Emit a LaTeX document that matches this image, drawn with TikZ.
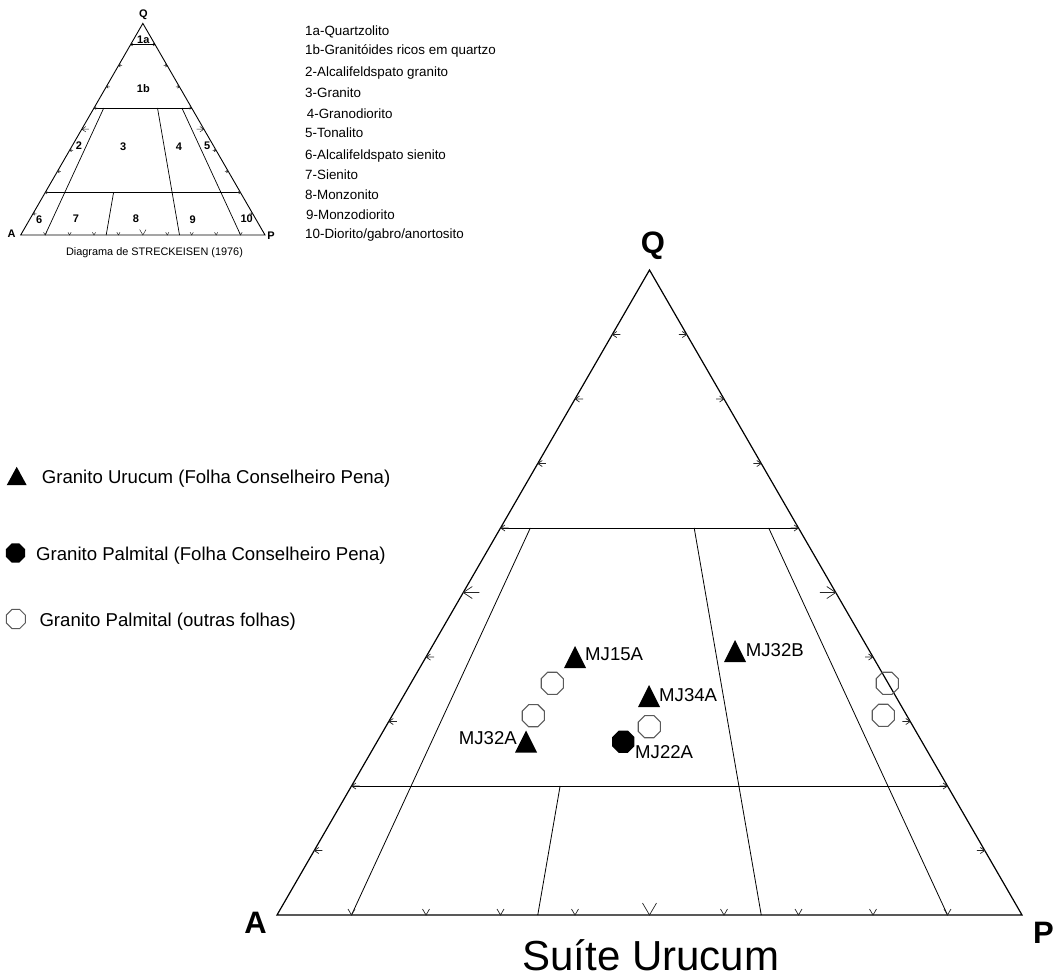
\documentclass[tikz,border=0pt]{standalone}
\usepackage{fontspec}
\setmainfont{Liberation Sans}
\usetikzlibrary{calc,shapes.geometric}

% QAP classification frame: #1 = A corner, #2 = P corner, #3 = Q corner, #4 = tick scale
\newcommand\qapgrid[4]{%
  \draw[frame] (#1) -- (#2) -- (#3) -- cycle;
  \foreach \g in {10,35,65,90} {
    \coordinate (#1base\g) at ($(#1)!0.\g!(#2)$);
  }
  % Q levels 60 % and 20 %
  \draw[field] ($(#1)!0.6!(#3)$) -- ($(#2)!0.6!(#3)$);
  \draw[field] ($(#1)!0.2!(#3)$) -- ($(#2)!0.2!(#3)$);
  % P/(A+P) rays 10, 35, 65, 90 %
  \draw[field] (#1base10) -- ($(#1base10)!0.6!(#3)$);
  \draw[field] (#1base35) -- ($(#1base35)!0.2!(#3)$);
  \draw[field] (#1base65) -- ($(#1base65)!0.6!(#3)$);
  \draw[field] (#1base90) -- ($(#1base90)!0.6!(#3)$);
  % scale ticks every 10 %
  \foreach \f/\k in {0.1/1,0.2/1,0.3/1,0.4/1,0.5/2,0.6/1,0.7/1,0.8/1,0.9/1} {
    \coordinate (#1tl) at ($(#1)!\f!(#3)$);
    \coordinate (#1tr) at ($(#2)!\f!(#3)$);
    \coordinate (#1tb) at ($(#1)!\f!(#2)$);
    \draw[tick] (#1tl) -- ++({8*\k*#4},0)
                (#1tl) -- ++({4.5*\k*#4},{-3*\k*#4})
                (#1tl) -- ++({4.5*\k*#4},{3*\k*#4});
    \draw[tick] (#1tr) -- ++({-8*\k*#4},0)
                (#1tr) -- ++({-4.5*\k*#4},{-3*\k*#4})
                (#1tr) -- ++({-4.5*\k*#4},{3*\k*#4});
    \draw[tick] (#1tb) ++({-3.5*\k*#4},{-6*\k*#4}) -- (#1tb) -- ++({3.5*\k*#4},{-6*\k*#4});
  }
}

\tikzset{
  frame/.style={line width=1.2pt, line join=miter},
  field/.style={line width=0.8pt},
  tick/.style={line width=0.7pt, black!85},
  oct/.style={regular polygon, regular polygon sides=8, inner sep=0pt},
  openoct/.style={oct, draw=black!65, line width=1.1pt, minimum size=24pt},
  fulloct/.style={oct, fill=black, minimum size=24pt},
  lbl/.style={inner sep=0pt, font=\fontsize{18.6}{22}\selectfont},
  keytxt/.style={inner sep=0pt, anchor=base west, font=\fontsize{18.6}{22}\selectfont},
  listtxt/.style={inner sep=0pt, anchor=base west, font=\fontsize{13.4}{16}\selectfont},
  apex/.style={inner sep=0pt, font=\fontsize{31}{34}\selectfont\bfseries},
  smallapex/.style={inner sep=0pt, font=\fontsize{11}{13}\selectfont\bfseries},
  field label/.style={inner sep=0pt, font=\fontsize{11}{13}\selectfont\bfseries},
  datatri/.pic={\fill (-11,11) -- (11,11) -- (0,-11) -- cycle;},
  keytri/.pic={\fill (-10,9.2) -- (10,9.2) -- (0,-9.2) -- cycle;}
}

\begin{document}
\begin{tikzpicture}[x=1pt,y=-1pt]
\useasboundingbox (0,0) rectangle (1056,979);

% ---------- reference diagram (Streckeisen) ----------
\begin{scope}[frame/.style={line width=0.9pt}, field/.style={line width=0.7pt},
              tick/.style={line width=0.5pt, black!85}]
  \coordinate (a) at (20.7,235);
  \coordinate (p) at (265,235);
  \coordinate (q) at (142.85,23.4);
  \qapgrid{a}{p}{q}{0.45}
  \draw[line width=1.1pt] ($(a)!0.9!(q)$) -- ($(p)!0.9!(q)$);
\end{scope}
\node[smallapex] (sq) at (143.3,15) {Q};
\node[smallapex] (sa) at (11.7,233.5) {A};
\node[smallapex] (sp) at (271,235.5) {P};
\node[field label] (f1a) at (143.3,40) {1a};
\node[field label] (f1b) at (143.3,88.3) {1b};
\node[field label] (f2) at (79,145.7) {2};
\node[field label] (f3) at (123.3,146.7) {3};
\node[field label] (f4) at (179,146.7) {4};
\node[field label] (f5) at (207.3,145.7) {5};
\node[field label] (f6) at (39.3,220) {6};
\node[field label] (f7) at (76,218.3) {7};
\node[field label] (f8) at (136,218.3) {8};
\node[field label] (f9) at (192.7,219.3) {9};
\node[field label] (f10) at (246.7,219) {10};
\node[inner sep=0pt, anchor=base, font=\fontsize{10.9}{13}\selectfont] (cap) at (154.5,255.7)
  {Diagrama de STRECKEISEN (1976)};

% field names
\node[listtxt] (l1a) at (305,35.5) {1a-Quartzolito};
\node[listtxt] (l1b) at (305,55) {1b-Granitóides ricos em quartzo};
\node[listtxt] (l2) at (305,76.5) {2-Alcalifeldspato granito};
\node[listtxt] (l3) at (305,97.5) {3-Granito};
\node[listtxt] (l4) at (306.7,118) {4-Granodiorito};
\node[listtxt] (l5) at (305,137.5) {5-Tonalito};
\node[listtxt] (l6) at (305,159) {6-Alcalifeldspato sienito};
\node[listtxt] (l7) at (305,179) {7-Sienito};
\node[listtxt] (l8) at (305,199) {8-Monzonito};
\node[listtxt] (l9) at (306,219) {9-Monzodiorito};
\node[listtxt] (l10) at (305,238.5) {10-Diorito/gabro/anortosito};

% ---------- legend ----------
\coordinate (keyU) at (16.7,476);
\pic at (keyU) {keytri};
\node[oct, fill=black, minimum size=20.6pt] (keyPC) at (15.5,553) {};
\node[oct, draw=black!65, line width=1pt, minimum size=20.6pt] (keyPO) at (15.8,619) {};
\node[keytxt] (keyUt) at (41.7,483.3) {Granito Urucum (Folha Conselheiro Pena)};
\node[keytxt] (keyPCt) at (36,560) {Granito Palmital (Folha Conselheiro Pena)};
\node[keytxt] (keyPOt) at (39.3,626.7) {Granito Palmital (outras folhas)};

% ---------- main QAP diagram ----------
\coordinate (A) at (277,915);
\coordinate (P) at (1022,915);
\coordinate (Q) at (649.5,270);
\qapgrid{A}{P}{Q}{1}
\node[apex, anchor=base east] (lA) at (267,933) {A};
\node[apex, anchor=base west] (lP) at (1033,943) {P};
\node[apex, anchor=base] (lQ) at (653,253) {Q};

% samples: other sheets
\node[openoct] (o1) at (552.3,683.3) {};
\node[openoct] (o2) at (533.3,715.7) {};
\node[openoct] (o3) at (649.3,726.7) {};
\node[openoct] (o4) at (887.3,683.3) {};
\node[openoct] (o5) at (883.3,715.3) {};
% Palmital, Conselheiro Pena
\node[fulloct] (mj22a) at (623.3,741.7) {};
\node[lbl, anchor=base west] (mj22al) at (635,758) {MJ22A};
% Urucum, Conselheiro Pena
\coordinate (mj15a) at (575,657);
\coordinate (mj32a) at (526,741.5);
\coordinate (mj34a) at (649,696);
\coordinate (mj32b) at (735,651);
\pic at (mj15a) {datatri};
\pic at (mj32a) {datatri};
\pic at (mj34a) {datatri};
\pic at (mj32b) {datatri};
\node[lbl, anchor=base west] (mj15al) at (585,660) {MJ15A};
\node[lbl, anchor=base east] (mj32al) at (517,744) {MJ32A};
\node[lbl, anchor=base west] (mj34al) at (659,701) {MJ34A};
\node[lbl, anchor=base west] (mj32bl) at (745.7,656) {MJ32B};

% title
\node[inner sep=0pt, anchor=base, font=\fontsize{42}{46}\selectfont] (title) at (651,970) {Suíte Urucum};
\end{tikzpicture}
\end{document}
